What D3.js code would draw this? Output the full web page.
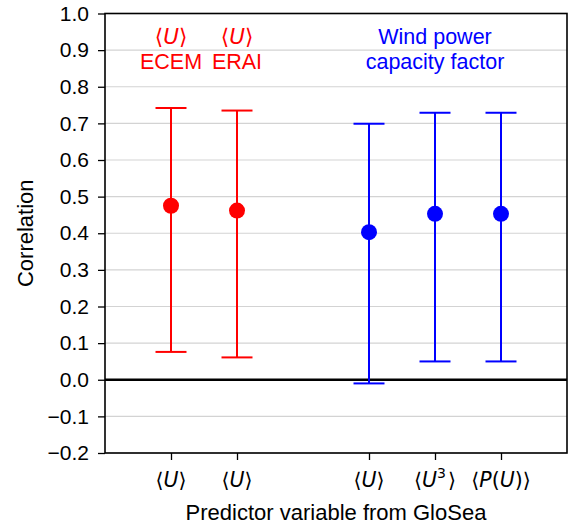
<!DOCTYPE html>
<html><head><meta charset="utf-8">
<script src="https://cdn.jsdelivr.net/npm/d3@7"></script>
<style>body{margin:0;background:#fff}</style>
</head><body>
<svg id="c" width="574" height="529"></svg>
<script>
const positions = [1, 2, 4, 5, 6];
const groups = ["ECEM", "ERAI", "WPCF", "WPCF", "WPCF"];
const means = [0.475, 0.462, 0.403, 0.453, 0.453];
const upper = [0.742, 0.735, 0.699, 0.729, 0.729];
const lower = [0.076, 0.061, -0.010, 0.050, 0.050];
const colors = ["#ff0000", "#ff0000", "#0000ff", "#0000ff", "#0000ff"];
const yTicks = [-0.2,-0.1,0.0,0.1,0.2,0.3,0.4,0.5,0.6,0.7,0.8,0.9,1.0];

const svg = d3.select("#c");
const L=105, R=567, T=13.5, B=453;
const x = d3.scaleLinear().domain([0,7]).range([L,R]);
const y = d3.scaleLinear().domain([-0.2,1.0]).range([B,T]);
const font = "Liberation Sans, Arial, sans-serif";
const mf = "DejaVu Sans, sans-serif";

// grid
svg.append("g").selectAll("line").data(yTicks).join("line")
  .attr("x1",L).attr("x2",R).attr("y1",d=>y(d)).attr("y2",d=>y(d))
  .attr("stroke","#d3d3d3").attr("stroke-width",1.2);

// zero line
svg.append("line").attr("x1",L).attr("x2",R).attr("y1",y(0)).attr("y2",y(0))
  .attr("stroke","#000").attr("stroke-width",2.5);

// y axis
const ya = svg.append("g").attr("transform",`translate(${L},0)`)
  .call(d3.axisLeft(y).tickValues(yTicks).tickFormat(d=>d3.format(".1f")(d).replace("-","−")).tickSize(7).tickPadding(9));
ya.select(".domain").remove();
ya.selectAll("line").attr("stroke","#000").attr("stroke-width",1.3);
ya.selectAll("text").attr("font-family",font).attr("font-size",21).attr("fill","#000");

// x axis ticks
const xa = svg.append("g").attr("transform",`translate(0,${B})`)
  .call(d3.axisBottom(x).tickValues(positions).tickFormat("").tickSize(7));
xa.select(".domain").remove();
xa.selectAll("line").attr("stroke","#000").attr("stroke-width",1.3);

// x tick labels (math-style)
function mathU(t, pre, sup){
  t.append("tspan").text("⟨");
  if(pre){ t.append("tspan").attr("font-style","italic").text("P"); t.append("tspan").text("("); }
  t.append("tspan").attr("font-style","italic").text("U");
  if(sup){ t.append("tspan").attr("font-size",14).attr("dy",-9).text(sup); }
  if(pre){ t.append("tspan").text(")"); }
  t.append("tspan").attr("dy",sup?9:0).attr("dx",sup?2:0).text("⟩");
}
const tickPre = [false,false,false,false,true];
const tickSup = ["","","","3",""];
positions.forEach((p,i)=>{
  const t = svg.append("text").attr("x",x(p)).attr("y",487).attr("text-anchor","middle")
    .attr("font-family",mf).attr("font-size",20.5).attr("fill","#000");
  mathU(t, tickPre[i], tickSup[i]);
});

// frame
svg.append("rect").attr("x",L).attr("y",T).attr("width",R-L).attr("height",B-T)
  .attr("fill","none").attr("stroke","#000").attr("stroke-width",1.6);

// error bars
const idx = d3.range(positions.length);
const cap = 15.5;
svg.append("g").selectAll("line").data(idx).join("line")
  .attr("x1",i=>x(positions[i])).attr("x2",i=>x(positions[i]))
  .attr("y1",i=>y(lower[i])).attr("y2",i=>y(upper[i]))
  .attr("stroke",i=>colors[i]).attr("stroke-width",2);
[upper,lower].forEach(arr=>{
  svg.append("g").selectAll("line").data(idx).join("line")
    .attr("x1",i=>x(positions[i])-cap).attr("x2",i=>x(positions[i])+cap)
    .attr("y1",i=>y(arr[i])).attr("y2",i=>y(arr[i]))
    .attr("stroke",i=>colors[i]).attr("stroke-width",2);
});
svg.append("g").selectAll("circle").data(idx).join("circle")
  .attr("cx",i=>x(positions[i])).attr("cy",i=>y(means[i])).attr("r",8)
  .attr("fill",i=>colors[i]);

// annotations
function ann(px, lines, color){
  lines.forEach((ln,j)=>{
    const t = svg.append("text").attr("x",x(px)).attr("y",44+j*25).attr("text-anchor","middle")
      .attr("font-size",21.5).attr("fill",color);
    if(ln==="U"){
      t.attr("font-family",mf);
      mathU(t,false,"");
    } else {
      t.attr("font-family",font).text(ln);
    }
  });
}
ann(1,["U","ECEM"],"#ff0000");
ann(2,["U","ERAI"],"#ff0000");
ann(5,["Wind power","capacity factor"],"#0000ff");

// axis labels
svg.append("text").attr("transform",`translate(33,${(T+B)/2}) rotate(-90)`).attr("text-anchor","middle")
  .attr("font-family",font).attr("font-size",22).attr("fill","#000").text("Correlation");
svg.append("text").attr("x",(L+R)/2).attr("y",520).attr("text-anchor","middle")
  .attr("font-family",font).attr("font-size",22).attr("fill","#000").text("Predictor variable from GloSea");
</script>
</body></html>
